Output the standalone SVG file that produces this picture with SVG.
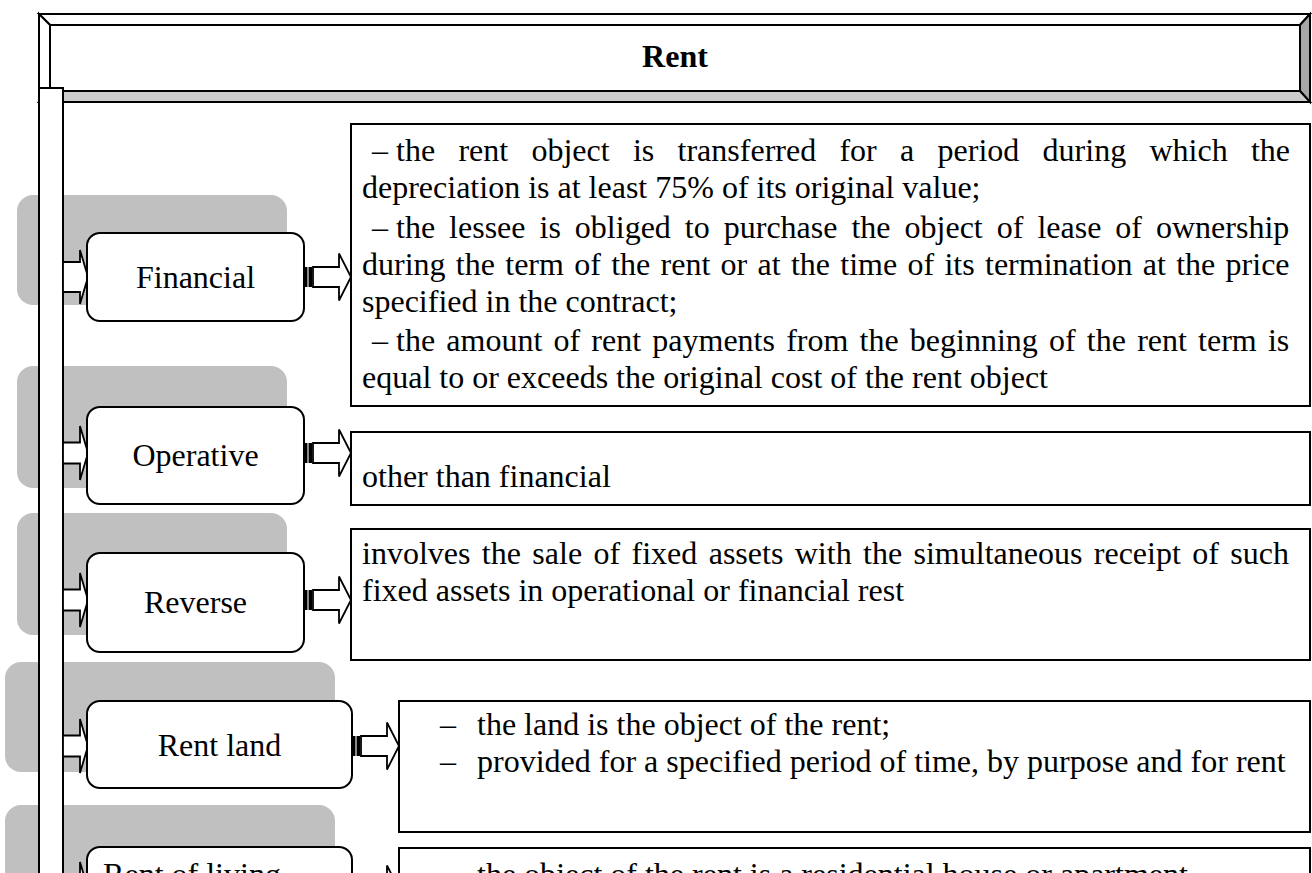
<svg xmlns="http://www.w3.org/2000/svg" width="1312" height="873" viewBox="0 0 1312 873">
  <defs>
    <style>
      text { font-family: "Liberation Serif", "Times New Roman", serif; font-size: 32px; fill: #000; }
      .title { font-weight: bold; text-anchor: middle; }
      .label { text-anchor: middle; }
      .panel { fill: #c0c0c0; }
      .node { fill: #fff; stroke: #000; stroke-width: 2; }
      .box { fill: #fff; stroke: #000; stroke-width: 2; }
      .bar { fill: #fff; stroke: #000; stroke-width: 2; }
      .arrow { fill: #fff; stroke: #000; stroke-width: 1.8; stroke-linejoin: miter; }
    </style>
    <!-- hollow block arrow from the spine into a category -->
    <g id="inArrow">
      <polygon class="arrow" points="0,-10.5 17,-10.5 17,-27 25,0 17,27 17,10.5 0,10.5"/>
    </g>
    <g id="inArrowWide">
      <polygon class="arrow" points="0,-15 17,-15 17,-27 25,0 17,27 17,15 0,15"/>
    </g>
    <!-- striped block arrow from a category to its description -->
    <g id="outArrow">
      <rect x="0" y="-10" width="3" height="20" fill="#000"/>
      <rect x="3" y="-10" width="2" height="20" fill="#8a8a8a"/>
      <rect x="5" y="-10" width="3" height="20" fill="#000"/>
      <polygon class="arrow" points="9,-10 35,-10 35,-23.5 47,0 35,23.5 35,10 9,10"/>
    </g>
  </defs>

  <rect width="1312" height="873" fill="#fff"/>

  <!-- bevelled title bar -->
  <g id="title">
    <polygon points="39,14 1310,14 1300,25 50,25" fill="#fff" stroke="#000" stroke-width="2" stroke-linejoin="miter"/>
    <polygon points="39,14 50,25 50,91 39,102" fill="#fff" stroke="#000" stroke-width="2"/>
    <polygon points="1310,14 1310,102 1300,91 1300,25" fill="#a6a6a6" stroke="#000" stroke-width="2"/>
    <polygon points="39,102 50,91 1300,91 1310,102" fill="#cccccc" stroke="#000" stroke-width="2"/>
    <rect x="50" y="25" width="1250" height="66" fill="#fff" stroke="#000" stroke-width="2"/>
    <text class="title" x="675" y="67">Rent</text>
  </g>

  <!-- grey backing panels behind the categories -->
  <g id="panels">
    <rect class="panel" x="17" y="195" width="270" height="110" rx="16"/>
    <rect class="panel" x="17" y="366" width="270" height="122" rx="16"/>
    <rect class="panel" x="17" y="513" width="270" height="122" rx="16"/>
    <rect class="panel" x="5" y="662" width="330" height="110" rx="16"/>
    <rect class="panel" x="5" y="805" width="330" height="110" rx="16"/>
  </g>

  <!-- vertical spine -->
  <rect id="spine" class="bar" x="39" y="88" width="24" height="820"/>

  <g id="connectors">
    <use href="#inArrowWide" x="63" y="277"/>
    <use href="#inArrow" x="63" y="453"/>
    <use href="#inArrow" x="63" y="600"/>
    <use href="#inArrow" x="63" y="746"/>
    <use href="#inArrow" x="63" y="889"/>
    <use href="#outArrow" x="304" y="277"/>
    <use href="#outArrow" x="304" y="453"/>
    <use href="#outArrow" x="304" y="600"/>
    <use href="#outArrow" x="352" y="746"/>
    <use href="#outArrow" x="352" y="889"/>
  </g>

  <g id="financial">
    <rect class="node" x="87" y="233" width="217" height="88" rx="13"/>
    <text class="label" x="195.5" y="288">Financial</text>
  </g>
  <g id="financial-desc">
    <rect class="box" x="351" y="124" width="959" height="282"/>
    <text x="372" y="161">–</text>
    <text x="396" y="161" word-spacing="15.3">the rent object is transferred for a period during which the</text>
    <text x="362" y="198">depreciation is at least 75% of its original value;</text>
    <text x="372" y="238">–</text>
    <text x="396" y="238" word-spacing="6">the lessee is obliged to purchase the object of lease of ownership</text>
    <text x="362" y="275" word-spacing="2.3">during the term of the rent or at the time of its termination at the price</text>
    <text x="362" y="312">specified in the contract;</text>
    <text x="372" y="351">–</text>
    <text x="396" y="351" word-spacing="3.2">the amount of rent payments from the beginning of the rent term is</text>
    <text x="362" y="388">equal to or exceeds the original cost of the rent object</text>
  </g>

  <g id="operative">
    <rect class="node" x="87" y="407" width="217" height="97" rx="13"/>
    <text class="label" x="195.5" y="466">Operative</text>
  </g>
  <g id="operative-desc">
    <rect class="box" x="351" y="432" width="959" height="73"/>
    <text x="362" y="487">other than financial</text>
  </g>

  <g id="reverse">
    <rect class="node" x="87" y="553" width="217" height="99" rx="13"/>
    <text class="label" x="195.5" y="613">Reverse</text>
  </g>
  <g id="reverse-desc">
    <rect class="box" x="351" y="529" width="959" height="131"/>
    <text x="362" y="564" word-spacing="3.4">involves the sale of fixed assets with the simultaneous receipt of such</text>
    <text x="362" y="601">fixed assets in operational or financial rest</text>
  </g>

  <g id="rent-land">
    <rect class="node" x="87" y="701" width="265" height="87" rx="13"/>
    <text class="label" x="219.5" y="756">Rent land</text>
  </g>
  <g id="rent-land-desc">
    <rect class="box" x="399" y="701" width="911" height="131"/>
    <text x="440" y="735">–</text>
    <text x="477" y="735">the land is the object of the rent;</text>
    <text x="440" y="772">–</text>
    <text x="477" y="772">provided for a specified period of time, by purpose and for rent</text>
  </g>

  <g id="rent-living">
    <rect class="node" x="87" y="847" width="265" height="100" rx="13"/>
    <text class="label" x="192" y="885">Rent of living</text>
  </g>
  <g id="rent-living-desc">
    <rect class="box" x="399" y="848" width="911" height="100"/>
    <text x="440" y="885">–</text>
    <text x="477" y="885">the object of the rent is a residential house or apartment</text>
  </g>
</svg>
